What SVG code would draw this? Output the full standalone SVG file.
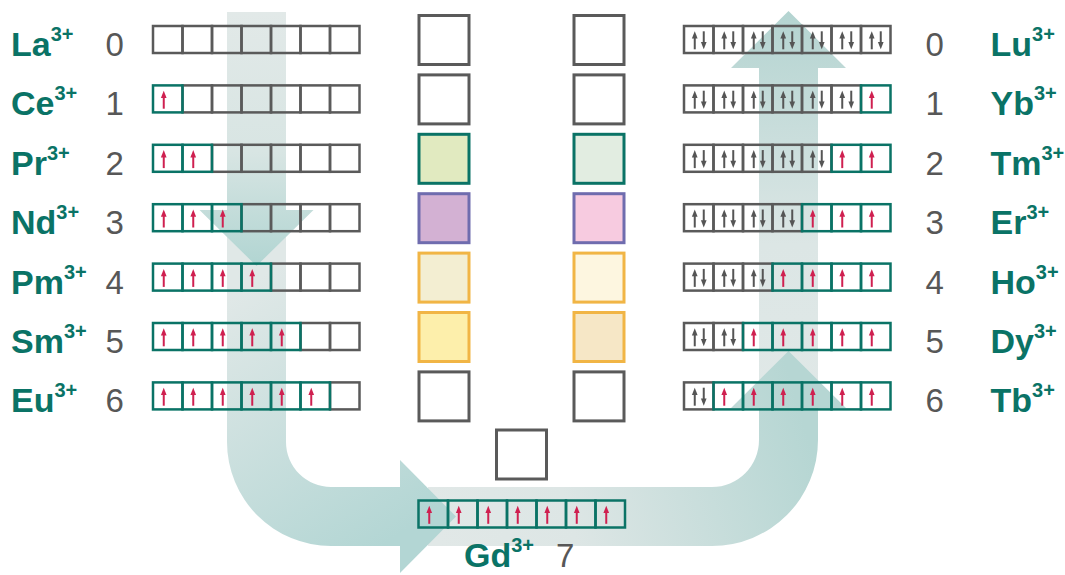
<svg xmlns="http://www.w3.org/2000/svg" width="1065" height="575" viewBox="0 0 1065 575">
<style>
.lb{font-family:"Liberation Sans",Arial,sans-serif;font-weight:bold;font-size:34px;fill:#0a7366}
.sp{font-size:20px}
.nm{font-family:"Liberation Sans",Arial,sans-serif;font-size:33px;fill:#575757}
.cg{fill:none;stroke:#5a5a5a;stroke-width:2.5}
.ct{fill:none;stroke:#0a7366;stroke-width:2.5}
.rl{stroke:#cf2050;stroke-width:2;fill:none}
.rh{fill:#cf2050}
.gl{stroke:#555;stroke-width:2;fill:none}
.gh{fill:#555}
.bx{stroke-width:3}
.bg{fill:#fff;stroke:#5a5a5a}
.bt{stroke:#0a7366}
.bp{stroke:#6f6cae}
.by{stroke:#f1b545}
</style>
<defs>
<linearGradient id="g1" gradientUnits="userSpaceOnUse" x1="256" y1="12" x2="256" y2="266">
<stop offset="0" stop-color="#e2e9e8"/><stop offset="0.55" stop-color="#d8e5e3"/><stop offset="1" stop-color="#b1d5d2"/>
</linearGradient>
<linearGradient id="g2" gradientUnits="userSpaceOnUse" x1="256" y1="280" x2="420" y2="520">
<stop offset="0" stop-color="#e0e8e7"/><stop offset="1" stop-color="#b3d6d4"/>
</linearGradient>
<linearGradient id="g3" gradientUnits="userSpaceOnUse" x1="430" y1="520" x2="800" y2="410">
<stop offset="0" stop-color="#e1e8e7"/><stop offset="0.35" stop-color="#dde6e5"/><stop offset="1" stop-color="#b6d6d3"/>
</linearGradient>
<linearGradient id="g4" gradientUnits="userSpaceOnUse" x1="788" y1="400" x2="788" y2="11">
<stop offset="0" stop-color="#e0e8e7"/><stop offset="0.4" stop-color="#dce6e5"/><stop offset="1" stop-color="#b4d4d1"/>
</linearGradient>
<rect id="c0" class="cg" width="29.5" height="27"/>
<g id="cu"><rect class="ct" width="29.5" height="27"/><path class="rl" d="M10.75 23.3V11"/><path class="rh" d="M7.9 12.6L10.75 5.3L13.6 12.6Z"/></g>
<g id="cp"><rect class="cg" width="29.5" height="27"/><path class="gl" d="M10.75 23.3V11"/><path class="gh" d="M7.9 12.6L10.75 5.3L13.6 12.6Z"/><path class="gl" d="M19.75 5.3V17.6"/><path class="gh" d="M16.9 16L19.75 23.3L22.6 16Z"/></g>
</defs>

<g id="connectors">
<path d="M759,400 V68 H731 L788.5,11 L846,68 H818 V400 Z" fill="url(#g4)"/>
<path d="M428,487 H712 A47,47 0 0 0 759,440 V408 H731 L788.5,351 L846,408 H818 V440 A106,106 0 0 1 712,546 H428 Z" fill="url(#g3)"/>
<path d="M227,230 H286 V442 A45,45 0 0 0 331,487 H400 V460 L456,516.5 L400,573 V546 H331 A104,104 0 0 1 227,442 Z" fill="url(#g2)"/>
<path d="M227,12 H286 V210 H313.5 L256.5,266 L199.5,210 H227 Z" fill="url(#g1)"/>
</g>

<g id="La"><text class="lb" x="11" y="56">La<tspan class="sp" dy="-15">3+</tspan></text><text class="nm" x="105.5" y="56">0</text>
<g transform="translate(153,26)"><use href="#c0" x="0"/><use href="#c0" x="29.5"/><use href="#c0" x="59"/><use href="#c0" x="88.5"/><use href="#c0" x="118"/><use href="#c0" x="147.5"/><use href="#c0" x="177"/></g></g>
<g id="Ce"><text class="lb" x="11" y="115.4">Ce<tspan class="sp" dy="-15">3+</tspan></text><text class="nm" x="105.5" y="115.4">1</text>
<g transform="translate(153,85.4)"><use href="#c0" x="29.5"/><use href="#c0" x="59"/><use href="#c0" x="88.5"/><use href="#c0" x="118"/><use href="#c0" x="147.5"/><use href="#c0" x="177"/><use href="#cu" x="0"/></g></g>
<g id="Pr"><text class="lb" x="11" y="174.8">Pr<tspan class="sp" dy="-15">3+</tspan></text><text class="nm" x="105.5" y="174.8">2</text>
<g transform="translate(153,144.8)"><use href="#c0" x="59"/><use href="#c0" x="88.5"/><use href="#c0" x="118"/><use href="#c0" x="147.5"/><use href="#c0" x="177"/><use href="#cu" x="0"/><use href="#cu" x="29.5"/></g></g>
<g id="Nd"><text class="lb" x="11" y="234.2">Nd<tspan class="sp" dy="-15">3+</tspan></text><text class="nm" x="105.5" y="234.2">3</text>
<g transform="translate(153,204.2)"><use href="#c0" x="88.5"/><use href="#c0" x="118"/><use href="#c0" x="147.5"/><use href="#c0" x="177"/><use href="#cu" x="0"/><use href="#cu" x="29.5"/><use href="#cu" x="59"/></g></g>
<g id="Pm"><text class="lb" x="11" y="293.6">Pm<tspan class="sp" dy="-15">3+</tspan></text><text class="nm" x="105.5" y="293.6">4</text>
<g transform="translate(153,263.6)"><use href="#c0" x="118"/><use href="#c0" x="147.5"/><use href="#c0" x="177"/><use href="#cu" x="0"/><use href="#cu" x="29.5"/><use href="#cu" x="59"/><use href="#cu" x="88.5"/></g></g>
<g id="Sm"><text class="lb" x="11" y="353">Sm<tspan class="sp" dy="-15">3+</tspan></text><text class="nm" x="105.5" y="353">5</text>
<g transform="translate(153,323)"><use href="#c0" x="147.5"/><use href="#c0" x="177"/><use href="#cu" x="0"/><use href="#cu" x="29.5"/><use href="#cu" x="59"/><use href="#cu" x="88.5"/><use href="#cu" x="118"/></g></g>
<g id="Eu"><text class="lb" x="11" y="412.4">Eu<tspan class="sp" dy="-15">3+</tspan></text><text class="nm" x="105.5" y="412.4">6</text>
<g transform="translate(153,382.4)"><use href="#c0" x="177"/><use href="#cu" x="0"/><use href="#cu" x="29.5"/><use href="#cu" x="59"/><use href="#cu" x="88.5"/><use href="#cu" x="118"/><use href="#cu" x="147.5"/></g></g>

<g id="Lu"><text class="nm" x="925.5" y="56">0</text><text class="lb" x="990.5" y="56">Lu<tspan class="sp" dy="-15">3+</tspan></text>
<g transform="translate(684,26)"><use href="#cp" x="0"/><use href="#cp" x="29.5"/><use href="#cp" x="59"/><use href="#cp" x="88.5"/><use href="#cp" x="118"/><use href="#cp" x="147.5"/><use href="#cp" x="177"/></g></g>
<g id="Yb"><text class="nm" x="925.5" y="115.4">1</text><text class="lb" x="990.5" y="115.4">Yb<tspan class="sp" dy="-15">3+</tspan></text>
<g transform="translate(684,85.4)"><use href="#cp" x="0"/><use href="#cp" x="29.5"/><use href="#cp" x="59"/><use href="#cp" x="88.5"/><use href="#cp" x="118"/><use href="#cp" x="147.5"/><use href="#cu" x="177"/></g></g>
<g id="Tm"><text class="nm" x="925.5" y="174.8">2</text><text class="lb" x="990.5" y="174.8">Tm<tspan class="sp" dy="-15">3+</tspan></text>
<g transform="translate(684,144.8)"><use href="#cp" x="0"/><use href="#cp" x="29.5"/><use href="#cp" x="59"/><use href="#cp" x="88.5"/><use href="#cp" x="118"/><use href="#cu" x="147.5"/><use href="#cu" x="177"/></g></g>
<g id="Er"><text class="nm" x="925.5" y="234.2">3</text><text class="lb" x="990.5" y="234.2">Er<tspan class="sp" dy="-15">3+</tspan></text>
<g transform="translate(684,204.2)"><use href="#cp" x="0"/><use href="#cp" x="29.5"/><use href="#cp" x="59"/><use href="#cp" x="88.5"/><use href="#cu" x="118"/><use href="#cu" x="147.5"/><use href="#cu" x="177"/></g></g>
<g id="Ho"><text class="nm" x="925.5" y="293.6">4</text><text class="lb" x="990.5" y="293.6">Ho<tspan class="sp" dy="-15">3+</tspan></text>
<g transform="translate(684,263.6)"><use href="#cp" x="0"/><use href="#cp" x="29.5"/><use href="#cp" x="59"/><use href="#cu" x="88.5"/><use href="#cu" x="118"/><use href="#cu" x="147.5"/><use href="#cu" x="177"/></g></g>
<g id="Dy"><text class="nm" x="925.5" y="353">5</text><text class="lb" x="990.5" y="353">Dy<tspan class="sp" dy="-15">3+</tspan></text>
<g transform="translate(684,323)"><use href="#cp" x="0"/><use href="#cp" x="29.5"/><use href="#cu" x="59"/><use href="#cu" x="88.5"/><use href="#cu" x="118"/><use href="#cu" x="147.5"/><use href="#cu" x="177"/></g></g>
<g id="Tb"><text class="nm" x="925.5" y="412.4">6</text><text class="lb" x="990.5" y="412.4">Tb<tspan class="sp" dy="-15">3+</tspan></text>
<g transform="translate(684,382.4)"><use href="#cp" x="0"/><use href="#cu" x="29.5"/><use href="#cu" x="59"/><use href="#cu" x="88.5"/><use href="#cu" x="118"/><use href="#cu" x="147.5"/><use href="#cu" x="177"/></g></g>

<g id="Gd"><text class="lb" x="464" y="567">Gd<tspan class="sp" dy="-15">3+</tspan></text><text class="nm" x="556" y="567">7</text>
<g transform="translate(418.5,500.5)"><use href="#cu" x="0"/><use href="#cu" x="29.5"/><use href="#cu" x="59"/><use href="#cu" x="88.5"/><use href="#cu" x="118"/><use href="#cu" x="147.5"/><use href="#cu" x="177"/></g></g>

<g id="boxes-left">
<rect class="bx bg" x="419" y="15.5" width="50" height="49"/>
<rect class="bx bg" x="419" y="74.9" width="50" height="49"/>
<rect class="bx bt" x="419" y="134.3" width="50" height="49" fill="#e1eac0"/>
<rect class="bx bp" x="419" y="193.7" width="50" height="49" fill="#d3b1d3"/>
<rect class="bx by" x="419" y="253.1" width="50" height="49" fill="#f3eed2"/>
<rect class="bx by" x="419" y="312.5" width="50" height="49" fill="#fdefab"/>
<rect class="bx bg" x="419" y="371.9" width="50" height="49"/>
</g>
<g id="boxes-right">
<rect class="bx bg" x="574" y="15.5" width="50" height="49"/>
<rect class="bx bg" x="574" y="74.9" width="50" height="49"/>
<rect class="bx bt" x="574" y="134.3" width="50" height="49" fill="#e2ede1"/>
<rect class="bx bp" x="574" y="193.7" width="50" height="49" fill="#f7cbe0"/>
<rect class="bx by" x="574" y="253.1" width="50" height="49" fill="#fdf6e0"/>
<rect class="bx by" x="574" y="312.5" width="50" height="49" fill="#f6e7c6"/>
<rect class="bx bg" x="574" y="371.9" width="50" height="49"/>
</g>
<g id="box-center">
<rect class="bx bg" x="496.5" y="430" width="50" height="49"/>
</g>
</svg>
